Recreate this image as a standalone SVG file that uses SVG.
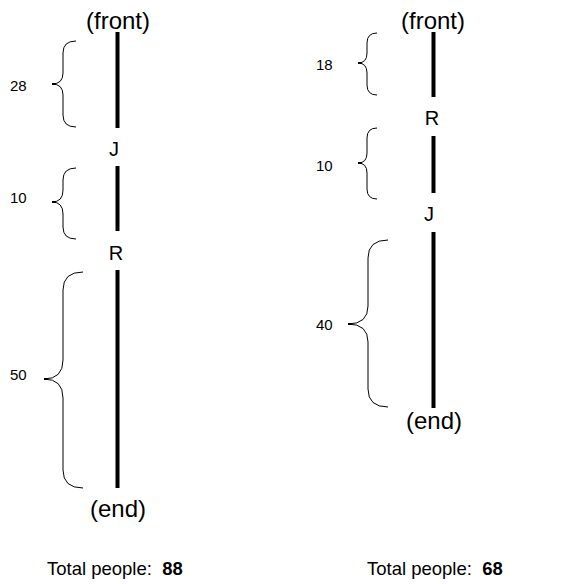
<svg xmlns="http://www.w3.org/2000/svg" width="580" height="584" viewBox="0 0 580 584">
<style>
.bg{fill:#fff}
.lbl{font-family:"Liberation Sans",Arial,sans-serif;font-size:24px;fill:#000}
.mk{font-family:"Liberation Sans",Arial,sans-serif;font-size:20px;fill:#000}
.num{font-family:"Liberation Sans",Arial,sans-serif;font-size:15px;fill:#000}
.tot{font-family:"Liberation Sans",Arial,sans-serif;font-size:18.5px;fill:#000}
.seg{stroke:#000;stroke-width:4;fill:none}
.brace{stroke:#000;stroke-width:1;fill:none}
</style>
<rect class="bg" x="0" y="0" width="580" height="584"/>
<g id="queue-before">
  <text class="lbl" x="118" y="29" text-anchor="middle">(front)</text>
  <text class="mk" x="114" y="156" text-anchor="middle">J</text>
  <text class="mk" x="116" y="260" text-anchor="middle">R</text>
  <text class="lbl" x="118" y="517" text-anchor="middle">(end)</text>
  <text class="num" x="10" y="91">28</text>
  <text class="num" x="10" y="203">10</text>
  <text class="num" x="10" y="380">50</text>
  <text class="tot" x="47" y="575" xml:space="preserve">Total people:  <tspan font-weight="bold">88</tspan></text>
</g>
<g id="queue-after">
  <text class="lbl" x="433" y="29" text-anchor="middle">(front)</text>
  <text class="mk" x="432" y="125" text-anchor="middle">R</text>
  <text class="mk" x="429" y="221" text-anchor="middle">J</text>
  <text class="lbl" x="434" y="429" text-anchor="middle">(end)</text>
  <text class="num" x="316" y="70">18</text>
  <text class="num" x="316" y="171">10</text>
  <text class="num" x="316" y="330">40</text>
  <text class="tot" x="367" y="575" xml:space="preserve">Total people:  <tspan font-weight="bold">68</tspan></text>
</g>
<g id="connectors">
  <line class="seg" x1="117.5" y1="32" x2="117.5" y2="128"/>
  <line class="seg" x1="117.5" y1="166" x2="117.5" y2="231"/>
  <line class="seg" x1="117.5" y1="270" x2="117.5" y2="488"/>
  <line class="seg" x1="433.5" y1="32" x2="433.5" y2="97"/>
  <line class="seg" x1="433.5" y1="136" x2="433.5" y2="193"/>
  <line class="seg" x1="433.5" y1="232" x2="433.5" y2="408"/>
  <path class="brace" d="M76,41 Q63,41 63,53 L63,73 Q63,84 52,84 Q63,84 63,95 L63,115 Q63,127 76,127"/>
  <path class="brace" d="M76,168 Q63,168 63,180 L63,190 Q63,202 52,202 Q63,202 63,214 L63,227 Q63,239 76,239"/>
  <path class="brace" d="M83,272 Q63,272 63,290 L63,360 Q63,379 44,379 Q63,379 63,398 L63,470 Q63,488 83,488"/>
  <path class="brace" d="M377,33 Q367,33 367,43 L367,53 Q367,63 358,63 Q367,63 367,73 L367,85 Q367,95 377,95"/>
  <path class="brace" d="M377,128 Q367,128 367,138 L367,153 Q367,163 358,163 Q367,163 367,173 L367,189 Q367,199 377,199"/>
  <path class="brace" d="M388,240 Q368,240 368,258 L368,306 Q368,324 348,324 Q368,324 368,342 L368,389 Q368,407 388,407"/>
  <line class="seg" x1="52" y1="84" x2="56" y2="84" style="stroke-width:2"/>
  <line class="seg" x1="52" y1="202" x2="56" y2="202" style="stroke-width:2"/>
  <line class="seg" x1="44" y1="379" x2="48" y2="379" style="stroke-width:2"/>
  <line class="seg" x1="358" y1="63" x2="362" y2="63" style="stroke-width:2"/>
  <line class="seg" x1="358" y1="163" x2="362" y2="163" style="stroke-width:2"/>
  <line class="seg" x1="348" y1="324" x2="352" y2="324" style="stroke-width:2"/>
</g>
</svg>
